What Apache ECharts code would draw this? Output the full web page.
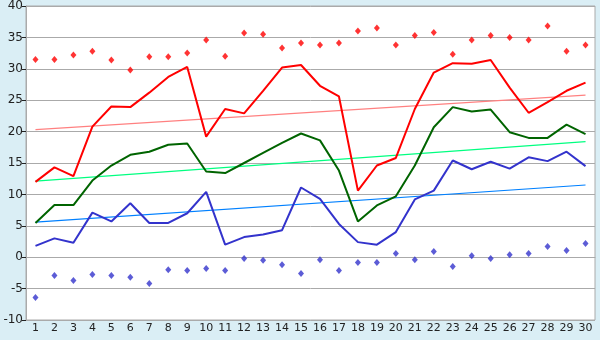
<!DOCTYPE html>
<html>
<head>
    <meta charset="utf-8">
    <title>Temperatures</title>
    <script src="https://cdn.jsdelivr.net/npm/echarts@6/dist/echarts.min.js"></script>
    <style>
        html, body { margin: 0; padding: 0; background: #daeef5; }
    </style>
</head>
<body>
    <div id="chart" style="width: 600px;height:340px;"></div>
    <script type="text/javascript">
        var days = ['1','2','3','4','5','6','7','8','9','10','11','12','13','14','15',
                    '16','17','18','19','20','21','22','23','24','25','26','27','28','29','30'];

        // daily lines
        var maxLine = [12.0, 14.3, 12.9, 20.8, 24.0, 23.9, 26.2, 28.7, 30.3, 19.2,
                       23.6, 22.9, 26.5, 30.2, 30.6, 27.3, 25.6, 10.6, 14.6, 15.8,
                       23.6, 29.4, 30.9, 30.8, 31.4, 27.0, 23.0, 24.7, 26.5, 27.8];
        var meanLine = [5.45, 8.3, 8.3, 12.2, 14.6, 16.3, 16.8, 17.9, 18.1, 13.65,
                        13.4, 15.0, 16.6, 18.2, 19.7, 18.6, 13.8, 5.7, 8.25, 9.7,
                        14.6, 20.7, 23.9, 23.2, 23.5, 19.9, 19.0, 19.0, 21.1, 19.6];
        var minLine = [1.8, 3.0, 2.3, 7.1, 5.7, 8.6, 5.45, 5.45, 7.0, 10.4,
                       2.0, 3.2, 3.6, 4.3, 11.1, 9.3, 5.3, 2.4, 2.0, 4.0,
                       9.2, 10.6, 15.4, 14.0, 15.2, 14.1, 15.9, 15.3, 16.8, 14.5];

        // record points
        var recordMax = [31.5, 31.5, 32.2, 32.8, 31.4, 29.8, 31.9, 31.9, 32.5, 34.6,
                         32.0, 35.7, 35.5, 33.3, 34.1, 33.8, 34.1, 36.0, 36.5, 33.8,
                         35.3, 35.8, 32.3, 34.6, 35.3, 35.0, 34.6, 36.8, 32.8, 33.8];
        var recordMin = [-6.4, -2.9, -3.7, -2.75, -2.9, -3.2, -4.2, -2.0, -2.1, -1.8,
                         -2.1, -0.2, -0.5, -1.2, -2.6, -0.4, -2.1, -0.85, -0.85, 0.6,
                         -0.4, 0.9, -1.5, 0.25, -0.2, 0.4, 0.6, 1.7, 1.06, 2.2];

        // trend lines: value at first and last day
        var maxTrend = [20.3, 25.8];
        var meanTrend = [12.1, 18.4];
        var minTrend = [5.6, 11.5];

        function trend(ends) {
            return [[0, ends[0]], [days.length - 1, ends[1]]];
        }

        var chart = echarts.init(document.getElementById('chart'));
        chart.setOption({
            animation: false,
            backgroundColor: '#daeef5',
            textStyle: { fontFamily: 'DejaVu Sans' },
            grid: {
                left: 26, right: 5, top: 5, bottom: 20,
                show: true,
                backgroundColor: '#ffffff',
                borderColor: '#aaaaaa',
                borderWidth: 1
            },
            xAxis: {
                type: 'category',
                data: days,
                boundaryGap: true,
                axisLine: { lineStyle: { color: '#aaaaaa' } },
                axisTick: { alignWithLabel: true, length: 5, lineStyle: { color: '#222' } },
                axisLabel: { color: '#222', fontSize: 11, margin: 3 },
                splitLine: { show: false }
            },
            yAxis: {
                type: 'value',
                min: -10, max: 40, interval: 5,
                axisLine: { show: true, lineStyle: { color: '#aaaaaa' } },
                axisTick: { show: true, length: 4, lineStyle: { color: '#222' } },
                axisLabel: { color: '#222', fontSize: 12, margin: 3 },
                splitLine: { lineStyle: { color: '#aaaaaa', width: 1 } }
            },
            series: [
                { type: 'line', data: trend(maxTrend), symbol: 'none',
                  lineStyle: { color: '#ff8080', width: 1.2 }, z: 1 },
                { type: 'line', data: trend(meanTrend), symbol: 'none',
                  lineStyle: { color: '#00ff80', width: 1.2 }, z: 1 },
                { type: 'line', data: trend(minTrend), symbol: 'none',
                  lineStyle: { color: '#0080ff', width: 1.2 }, z: 1 },
                { type: 'line', data: maxLine, symbol: 'none',
                  lineStyle: { color: '#ff0000', width: 2 }, z: 2 },
                { type: 'line', data: meanLine, symbol: 'none',
                  lineStyle: { color: '#006400', width: 2 }, z: 2 },
                { type: 'line', data: minLine, symbol: 'none',
                  lineStyle: { color: '#3333cc', width: 2 }, z: 2 },
                { type: 'scatter', data: recordMax, symbol: 'diamond', symbolSize: [6, 7],
                  itemStyle: { color: '#ff0000' }, z: 3 },
                { type: 'scatter', data: recordMin, symbol: 'diamond', symbolSize: [6, 7],
                  itemStyle: { color: '#3333cc' }, z: 3 }
            ]
        });
    </script>
</body>
</html>
